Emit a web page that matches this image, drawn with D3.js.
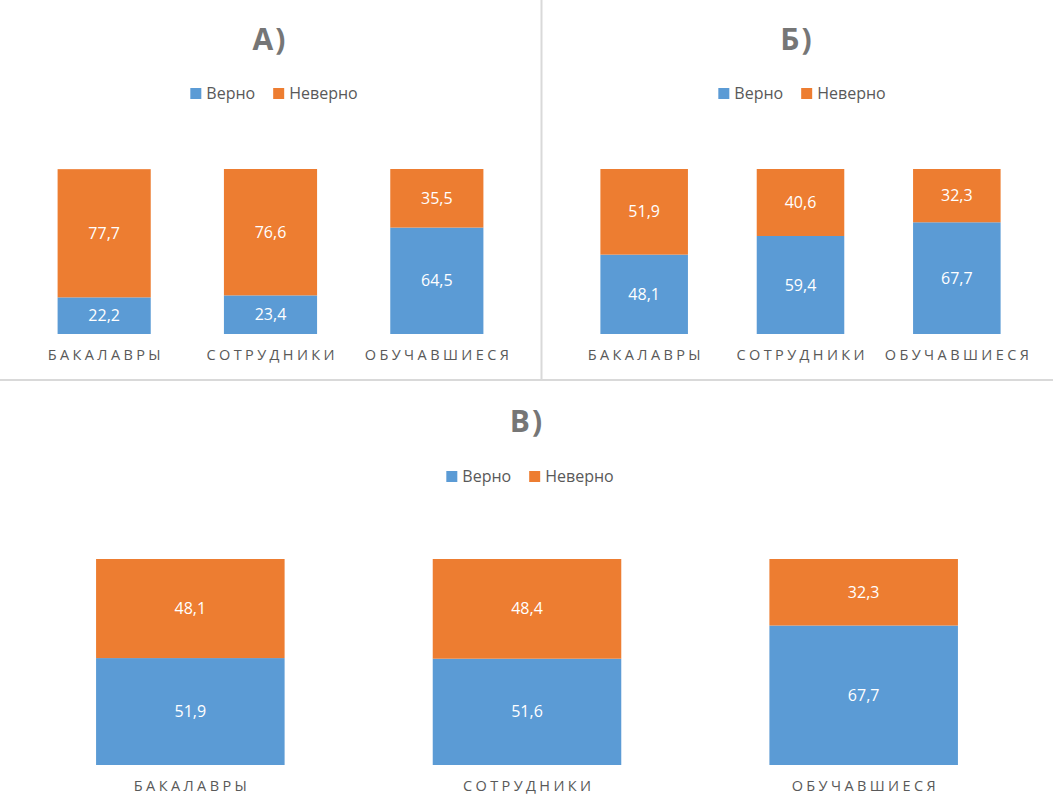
<!DOCTYPE html>
<html>
<head>
<meta charset="utf-8">
<script src="https://cdn.jsdelivr.net/npm/d3@7"></script>
<style>
    body { margin: 0; background: #fff; }
    svg text { font-family: "Open Sans", "Noto Sans", sans-serif; }
</style>
</head>
<body>
<div id="chart"></div>
<script>
// data
const categories = ["БАКАЛАВРЫ", "СОТРУДНИКИ", "ОБУЧАВШИЕСЯ"];
const seriesNames = ["Верно", "Неверно"];
const panelTitles = ["А)", "Б)", "В)"];

const correctA = [22.2, 23.4, 64.5];
const wrongA = [77.7, 76.6, 35.5];
const correctB = [48.1, 59.4, 67.7];
const wrongB = [51.9, 40.6, 32.3];
const correctV = [51.9, 51.6, 67.7];
const wrongV = [48.1, 48.4, 32.3];

const colors = ["#5B9BD5", "#ED7D31"];

const width = 1053, height = 809;

const svg = d3.select("#chart")
    .append("svg")
    .attr("width", width)
    .attr("height", height);

// panel borders
svg.append("line")
    .attr("x1", 541.5).attr("x2", 541.5)
    .attr("y1", 0).attr("y2", 380)
    .attr("stroke", "#d9d9d9").attr("stroke-width", 2);
svg.append("line")
    .attr("x1", 0).attr("x2", width)
    .attr("y1", 380).attr("y2", 380)
    .attr("stroke", "#d9d9d9").attr("stroke-width", 2);

// layout of every panel
const panels = [
    {title: panelTitles[0], correct: correctA, wrong: wrongA,
        x0: 21, x1: 520, yBottom: 334, yTop: 169, cx: 270, titleY: 50, legendY: 99, legendCx: 274},
    {title: panelTitles[1], correct: correctB, wrong: wrongB,
        x0: 566, x1: 1035, yBottom: 334, yTop: 169, cx: 797, titleY: 50, legendY: 99, legendCx: 802},
    {title: panelTitles[2], correct: correctV, wrong: wrongV,
        x0: 22, x1: 1032, yBottom: 765, yTop: 559, cx: 527, titleY: 432, legendY: 482, legendCx: 530}
];

function drawPanel(p) {
    const g = svg.append("g");

    const rows = categories.map((c, i) => ({cat: c, "Верно": p.correct[i], "Неверно": p.wrong[i]}));
    const stacked = d3.stack().keys(seriesNames)(rows);

    const xScale = d3.scaleBand()
        .domain(categories)
        .range([p.x0, p.x1])
        .paddingInner(0.44)
        .paddingOuter(0.22);

    const yScale = d3.scaleLinear()
        .domain([0, 100])
        .range([p.yBottom, p.yTop]);

    // title
    g.append("text")
        .attr("x", p.cx)
        .attr("y", p.titleY)
        .attr("text-anchor", "middle")
        .attr("font-size", 30)
        .attr("font-weight", "bold")
        .attr("letter-spacing", 2)
        .attr("fill", "#767676")
        .text(p.title);

    // legend
    const legend = g.append("g");
    let lx = 0;
    seriesNames.forEach((name, i) => {
        legend.append("rect")
            .attr("x", lx).attr("y", p.legendY - 11)
            .attr("width", 11).attr("height", 11)
            .attr("fill", colors[i]);
        const t = legend.append("text")
            .attr("x", lx + 16)
            .attr("y", p.legendY)
            .attr("font-size", 16)
            .attr("fill", "#595959")
            .text(name);
        lx += 16 + t.node().getComputedTextLength() + 18;
    });
    const lw = lx - 18;
    legend.attr("transform", `translate(${p.legendCx - lw / 2},0)`);

    // bars
    stacked.forEach((s, si) => {
        g.append("g")
            .selectAll("rect")
            .data(s)
            .join("rect")
            .attr("x", d => xScale(d.data.cat))
            .attr("y", d => yScale(d[1]))
            .attr("width", xScale.bandwidth())
            .attr("height", d => yScale(d[0]) - yScale(d[1]))
            .attr("fill", colors[si]);

        g.append("g")
            .selectAll("text")
            .data(s)
            .join("text")
            .attr("x", d => xScale(d.data.cat) + xScale.bandwidth() / 2)
            .attr("y", d => (yScale(d[0]) + yScale(d[1])) / 2)
            .attr("dy", "0.35em")
            .attr("text-anchor", "middle")
            .attr("font-size", 16)
            .attr("fill", "#fff")
            .text(d => d3.format(".1f")(d[1] - d[0]).replace(".", ","));
    });

    // category axis
    const xAxis = d3.axisBottom(xScale).tickSize(0).tickPadding(16);
    const xAxisG = g.append("g")
        .attr("transform", `translate(0,${p.yBottom})`)
        .call(xAxis);
    xAxisG.select(".domain").remove();
    xAxisG.selectAll("text")
        .attr("font-family", "\"Open Sans\", sans-serif")
        .attr("font-size", 14.5)
        .attr("letter-spacing", 3.4)
        .attr("fill", "#595959")
        .attr("dx", 1.7);
}

panels.forEach(drawPanel);
</script>
</body>
</html>
